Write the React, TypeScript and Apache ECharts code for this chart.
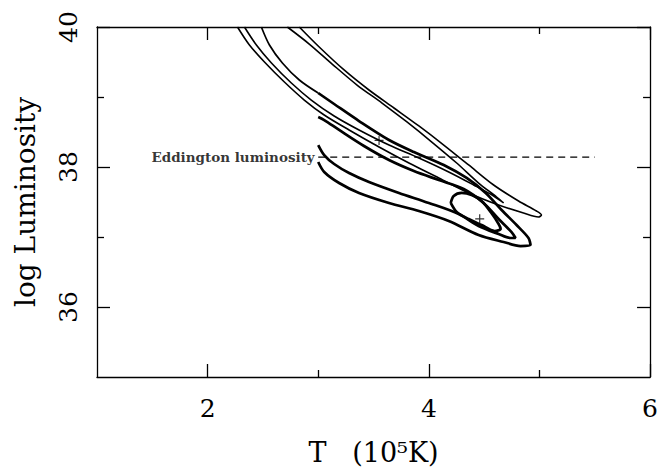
import React, { useEffect, useRef } from "react";
import * as echarts from "echarts";

// Axis ticks and labels
const xMajor = [2, 4, 6];
const xMinor = [3, 5];
const yMajor = [36, 38, 40];
const yMinor = [37, 39];

// Thin contours (open at top of plot)
const thinOuter: number[][] = [
  [2.270, 40.0], [2.378, 39.743], [2.514, 39.5], [2.694, 39.214], [2.874, 38.957],
  [3.054, 38.743], [3.279, 38.529], [3.55, 38.286], [3.82, 38.057], [4.09, 37.843],
  [4.36, 37.629], [4.631, 37.457], [4.856, 37.343], [4.991, 37.286], [5.018, 37.314],
  [4.973, 37.371], [4.811, 37.514], [4.586, 37.743], [4.36, 38.029], [4.135, 38.314],
  [3.91, 38.586], [3.685, 38.843], [3.459, 39.1], [3.234, 39.386], [3.009, 39.714],
  [2.829, 40.0],
];
const thinMiddle: number[][] = [
  [2.333, 40.0], [2.441, 39.743], [2.577, 39.486], [2.757, 39.2], [2.937, 38.957],
  [3.144, 38.729], [3.369, 38.529], [3.64, 38.314], [3.91, 38.129], [4.18, 37.929],
  [4.405, 37.743], [4.586, 37.586], [4.676, 37.486], [4.613, 37.571], [4.45, 37.771],
  [4.252, 38.057], [4.027, 38.357], [3.802, 38.643], [3.577, 38.914], [3.351, 39.171],
  [3.126, 39.471], [2.919, 39.757], [2.721, 40.0],
];
// Upper part of the outer thick contour, above the T = 3 edge
const thinUpper: number[][] = [
  [3.0, 39.057], [2.829, 39.243], [2.676, 39.486], [2.559, 39.743], [2.486, 40.0],
];

// Thick contours
const thickOuter: number[][] = [
  [3.0, 38.071], [3.054, 37.929], [3.189, 37.771], [3.369, 37.629], [3.64, 37.486],
  [3.91, 37.371], [4.18, 37.229], [4.45, 37.029], [4.676, 36.929], [4.829, 36.871],
  [4.919, 36.886], [4.901, 36.986], [4.793, 37.171], [4.658, 37.386], [4.514, 37.629],
  [4.342, 37.843], [4.135, 38.029], [3.865, 38.214], [3.64, 38.386], [3.369, 38.657],
  [3.144, 38.9], [3.0, 39.057],
];
const thickMiddle: number[][] = [
  [3.0, 38.314], [3.054, 38.171], [3.144, 38.043], [3.279, 37.914], [3.459, 37.786],
  [3.73, 37.629], [4.0, 37.486], [4.27, 37.329], [4.45, 37.157], [4.631, 37.043],
  [4.739, 36.986], [4.784, 36.986], [4.748, 37.071], [4.631, 37.257], [4.495, 37.486],
  [4.315, 37.686], [4.09, 37.814], [3.865, 37.943], [3.64, 38.1], [3.414, 38.3],
  [3.189, 38.529], [3.054, 38.671], [3.0, 38.714],
];
const thickInner: number[][] = [
  [4.198, 37.486], [4.225, 37.586], [4.297, 37.629], [4.387, 37.6], [4.477, 37.514],
  [4.559, 37.357], [4.631, 37.186], [4.649, 37.114], [4.595, 37.086], [4.477, 37.171],
  [4.36, 37.257], [4.252, 37.357], [4.198, 37.486],
];

const eddingtonLevel = 38.14;
const eddingtonRange = [3.0, 5.5];
const eddingtonText = "Eddington luminosity";
const bestFits: number[][] = [[3.55, 38.38], [4.46, 37.26]];

const FONT = "DejaVu Serif";

export default function App() {
  const ref = useRef<HTMLDivElement>(null);
  useEffect(() => {
    document.body.style.margin = "0";
    const chart = echarts.init(ref.current!, null, { renderer: "svg" });
    const lineStyle = { color: "#000", width: 1.3 };
    const xBase = { type: "value", min: 1, max: 6, interval: 1, splitLine: { show: false } };
    const yBase = { type: "value", min: 35, max: 40, interval: 1, splitLine: { show: false } };
    const curve = (data: number[][], width: number) => ({
      type: "line",
      data,
      showSymbol: false,
      symbol: "none",
      smooth: 0.3,
      lineStyle: { color: "#000", width },
      silent: true,
      animation: false,
    });
    chart.setOption({
      animation: false,
      grid: { left: 97, right: 9, top: 27, bottom: 97, containLabel: false },
      xAxis: [
        {
          ...xBase,
          position: "bottom",
          axisLine: { show: true, lineStyle },
          axisTick: { show: true, inside: true, length: 13, customValues: xMajor, lineStyle },
          axisLabel: { customValues: xMajor, fontFamily: FONT, fontSize: 25, color: "#000", margin: 19 },
          name: "T   (10⁵K)",
          nameLocation: "middle",
          nameGap: 62,
          nameTextStyle: { fontFamily: FONT, fontSize: 27, color: "#000" },
        },
        {
          ...xBase,
          position: "bottom",
          axisLine: { show: false },
          axisTick: { show: true, inside: true, length: 7, customValues: xMinor, lineStyle },
          axisLabel: { show: false },
        },
        {
          ...xBase,
          position: "top",
          axisLine: { show: true, lineStyle },
          axisTick: { show: true, inside: true, length: 13, customValues: xMajor, lineStyle },
          axisLabel: { show: false },
        },
        {
          ...xBase,
          position: "top",
          axisLine: { show: false },
          axisTick: { show: true, inside: true, length: 7, customValues: xMinor, lineStyle },
          axisLabel: { show: false },
        },
      ],
      yAxis: [
        {
          ...yBase,
          position: "left",
          axisLine: { show: true, lineStyle },
          axisTick: { show: true, inside: true, length: 13, customValues: yMajor, lineStyle },
          axisLabel: { customValues: yMajor, fontFamily: FONT, fontSize: 25, color: "#000", margin: 16, rotate: 90 },
          name: "log Luminosity",
          nameLocation: "middle",
          nameGap: 58,
          nameTextStyle: { fontFamily: FONT, fontSize: 28, color: "#000" },
        },
        {
          ...yBase,
          position: "left",
          axisLine: { show: false },
          axisTick: { show: true, inside: true, length: 7, customValues: yMinor, lineStyle },
          axisLabel: { show: false },
        },
        {
          ...yBase,
          position: "right",
          axisLine: { show: true, lineStyle },
          axisTick: { show: true, inside: true, length: 13, customValues: yMajor, lineStyle },
          axisLabel: { show: false },
        },
        {
          ...yBase,
          position: "right",
          axisLine: { show: false },
          axisTick: { show: true, inside: true, length: 7, customValues: yMinor, lineStyle },
          axisLabel: { show: false },
        },
      ],
      series: [
        curve(thinOuter, 1.6),
        curve(thinMiddle, 1.6),
        curve(thinUpper, 1.7),
        curve(thickOuter, 2.7),
        curve(thickMiddle, 2.7),
        curve(thickInner, 2.7),
        {
          type: "line",
          data: eddingtonRange.map((x) => [x, eddingtonLevel]),
          showSymbol: false,
          symbol: "none",
          lineStyle: { color: "#000", width: 1.3, type: [7, 5] },
          silent: true,
        },
        {
          type: "scatter",
          data: [[eddingtonRange[0], eddingtonLevel]],
          symbolSize: 1,
          itemStyle: { color: "transparent" },
          label: {
            show: true,
            position: "left",
            distance: 3,
            formatter: eddingtonText,
            fontFamily: FONT,
            fontSize: 13.5,
            fontWeight: "bold",
            color: "#000",
          },
          silent: true,
        },
        {
          type: "scatter",
          data: bestFits,
          symbol: "path://M5,0L5,10M0,5L10,5",
          symbolSize: 9,
          itemStyle: { color: "none", borderColor: "#000", borderWidth: 1.2 },
          silent: true,
        },
      ],
    });
    return () => chart.dispose();
  }, []);
  return <div ref={ref} style={{ width: 661, height: 474 }} />;
}
